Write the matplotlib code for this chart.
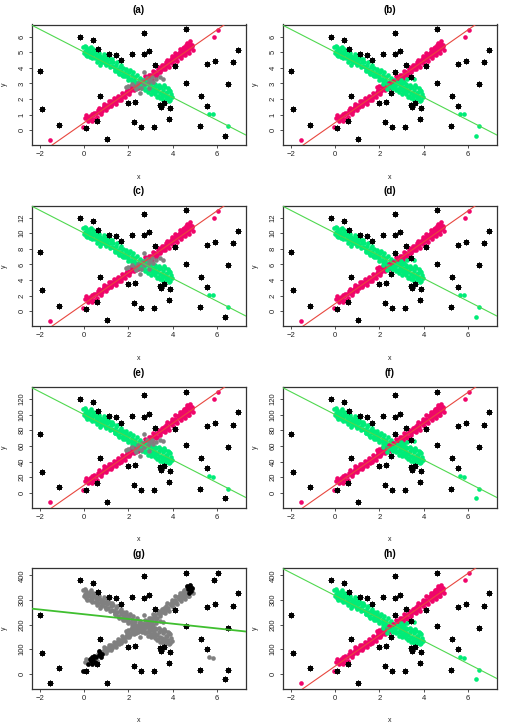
"""Ocho paneles de dispersion con dos rectas cruzadas (a)-(h).

Los puntos rojos siguen la recta creciente, los verdes la decreciente y
los asteriscos negros son atipicos. Todos los paneles comparten los mismos
datos base; solo cambia la escala del eje y.
"""

import matplotlib

matplotlib.use("Agg")
import matplotlib.pyplot as plt  # noqa: E402

plt.rcParams["font.family"] = ["Liberation Sans", "DejaVu Sans"]

COLOR_RED = "#f0056a"
COLOR_GREEN = "#00ec78"
COLOR_GREY = "#808080"
COLOR_RED_LINE = "#e8473f"
COLOR_GREEN_LINE = "#4fd84f"
COLOR_G_LINE = "#3fbf2f"

# --- datos base (unidades del panel (a)) ---------------------------------
red_x = [-1.52, -0.05, 0.05, 0.12, 0.18, 0.25, 0.30, 0.35, 0.38, 0.42, 0.48,
         0.55, 0.62, 0.68, 0.72, 0.80, 0.88, 0.95, 1.02, 1.08, 1.15, 1.20,
         1.26, 1.32, 1.38, 1.45, 1.50, 1.56, 1.62, 1.70, 1.76, 1.82, 1.88,
         1.95, 2.02, 2.08, 2.15, 2.20, 2.28, 2.35, 2.42, 2.50, 2.58, 2.65,
         2.72, 2.80, 2.88, 2.95, 3.02, 3.08, 3.15, 3.22, 3.28, 3.35, 3.42,
         3.48, 3.55, 3.60, 3.68, 3.72, 3.80, 3.86, 3.92, 3.98, 4.05, 4.10,
         4.16, 4.22, 4.28, 4.35, 4.40, 4.46, 4.52, 4.58, 4.62, 4.68, 4.72,
         4.78, 4.82, 4.86, 4.90, 4.75, 5.87, 6.05,
         0.08, 0.20, 0.33, 0.45, 0.58, 0.66, 0.75, 0.85, 0.92, 1.00, 1.12,
         1.22, 1.35, 1.42, 1.55, 1.65, 1.72, 1.85, 1.92, 2.05, 2.12, 2.25,
         2.32, 2.45, 2.55, 2.62, 2.75, 2.85, 2.92, 3.05, 3.12, 3.25, 3.32,
         3.45, 3.52, 3.65, 3.75, 3.82, 3.95, 4.02, 4.12, 4.20, 4.32, 4.38,
         4.50, 4.55, 4.65, 4.70, 4.80, 4.88, 4.60, 4.45, 4.30]
red_y = [-0.60, 0.21, 0.78, 0.85, 0.72, 0.92, 0.80, 1.05, 0.62, 0.95, 0.75,
         1.10, 1.28, 1.20, 1.35, 1.25, 1.55, 1.45, 1.62, 1.50, 1.70, 1.85,
         1.66, 1.80, 1.95, 1.88, 2.05, 1.92, 2.15, 2.10, 2.30, 2.22, 2.45,
         2.38, 2.60, 2.50, 2.72, 2.62, 2.85, 2.78, 2.95, 2.88, 3.10, 3.02,
         3.20, 3.15, 3.40, 3.30, 3.55, 3.45, 3.62, 3.75, 3.60, 3.90, 3.82,
         4.05, 3.95, 4.20, 4.10, 4.35, 4.22, 4.48, 4.38, 4.62, 4.50, 4.75,
         4.62, 4.90, 4.78, 5.00, 4.85, 5.10, 4.95, 5.22, 5.05, 5.40, 5.20,
         5.55, 5.30, 5.48, 5.15, 4.95, 5.98, 6.44,
         0.95, 0.60, 0.70, 1.12, 0.85, 1.45, 1.05, 1.40, 1.70, 1.30, 1.85,
         1.55, 2.05, 1.70, 2.20, 1.95, 2.40, 2.10, 2.60, 2.35, 2.85, 2.55,
         3.00, 2.70, 3.20, 2.85, 3.45, 3.05, 3.55, 3.30, 3.80, 3.50, 4.05,
         3.70, 4.15, 3.90, 4.50, 4.05, 4.75, 4.25, 4.95, 4.45, 5.20, 4.65,
         5.35, 4.80, 5.60, 5.00, 5.70, 5.40, 5.45, 5.25, 4.95]

green_x = [-0.05, 0.02, 0.05, 0.08, 0.12, 0.18, 0.22, 0.28, 0.32, 0.38, 0.42,
           0.48, 0.52, 0.58, 0.62, 0.65, 0.70, 0.75, 0.80, 0.85, 0.90, 0.95,
           1.00, 1.05, 1.10, 1.15, 1.20, 1.25, 1.30, 1.35, 1.40, 1.45, 1.50,
           1.55, 1.60, 1.65, 1.70, 1.75, 1.80, 1.85, 1.90, 1.95, 2.00, 2.05,
           2.10, 2.18, 2.25, 2.32, 2.40, 2.48, 2.55, 2.62, 2.70, 2.78, 2.85,
           2.92, 3.00, 3.05, 3.10, 3.15, 3.20, 3.25, 3.30, 3.35, 3.40, 3.45,
           3.50, 3.55, 3.60, 3.65, 3.70, 3.75, 3.80, 3.85, 3.88, 3.92, 0.40,
           0.55, 1.00, 5.65, 5.82, 6.50,
           0.00, 0.10, 0.15, 0.25, 0.35, 0.45, 0.60, 0.68, 0.78, 0.88, 0.98,
           1.08, 1.18, 1.28, 1.38, 1.48, 1.58, 1.68, 1.78, 1.88, 1.98, 2.08,
           2.15, 2.22, 2.30, 2.38, 2.45, 2.52, 2.60, 2.68, 2.75, 2.82, 2.90,
           2.97, 3.02, 3.08, 3.18, 3.22, 3.28, 3.38, 3.42, 3.48, 3.58, 3.62,
           3.68, 3.78, 3.82, 3.90, 3.95, 3.72, 3.52, 0.30, 0.72]
green_y = [5.35, 5.10, 5.40, 4.85, 5.20, 4.95, 5.05, 4.70, 4.92, 4.80, 5.10,
           4.60, 4.85, 4.72, 5.02, 4.50, 4.78, 4.62, 4.40, 4.70, 4.52, 4.30,
           4.62, 4.45, 4.22, 4.55, 4.35, 4.10, 4.40, 4.02, 3.85, 4.20, 3.95,
           3.70, 4.05, 3.80, 3.55, 3.98, 3.68, 3.45, 3.85, 3.60, 3.40, 3.72,
           3.30, 3.52, 3.22, 3.40, 3.05, 3.25, 2.90, 3.10, 2.80, 2.98, 2.65,
           2.88, 2.55, 2.78, 2.42, 2.70, 2.30, 2.85, 2.50, 2.20, 2.68, 2.38,
           2.10, 2.58, 2.25, 2.75, 2.00, 2.45, 2.15, 2.60, 1.95, 2.30, 5.20,
           5.15, 4.85, 1.05, 1.03, 0.25,
           4.95, 5.30, 4.75, 5.25, 4.60, 4.95, 4.40, 4.95, 4.35, 4.90, 4.15,
           4.70, 4.05, 4.55, 3.80, 4.35, 3.60, 4.15, 3.45, 3.95, 3.25, 3.85,
           3.15, 3.70, 3.10, 3.55, 2.85, 3.35, 2.70, 3.20, 2.60, 3.15, 2.45,
           3.05, 2.35, 3.00, 2.55, 2.95, 2.15, 2.90, 2.05, 2.78, 1.95, 2.88,
           2.18, 2.70, 1.90, 2.52, 2.10, 2.40, 2.30, 5.35, 4.20]

# Puntos del cruce: grises en (a), (c), (e); clasificados en (b), (d), (f), (h)
mid_x = [2.72, 2.54, 3.43, 1.90, 2.00, 2.15, 2.28, 2.38, 2.45, 2.55, 2.62,
         2.70, 2.82, 2.88, 2.98, 3.05, 3.12, 3.25, 3.55, 2.35, 2.95]
mid_y = [3.74, 2.36, 3.38, 2.74, 2.82, 2.95, 2.75, 2.88, 3.05, 2.72, 3.18,
         2.95, 3.35, 3.05, 3.22, 3.40, 3.10, 3.28, 3.30, 2.62, 2.70]
mid_group = ["s", "s", "s", "r", "r", "g", "r", "g", "r", "g", "r",
             "g", "r", "g", "g", "r", "g", "g", "g", "g", "g"]

# Atipicos (asteriscos)
star_x = [-2.00, -1.92, -1.13, -0.20, 0.10, 0.39, 0.62, 0.59, 0.74, 1.04,
          1.14, 1.43, 1.68, 1.98, 2.15, 2.24, 2.32, 2.57, 2.72, 2.72, 2.92,
          3.16, 3.19, 3.44, 3.49, 3.59, 3.85, 3.89, 4.09, 4.59, 4.59, 5.22,
          5.26, 5.55, 5.56, 5.91, 6.35, 6.51, 6.71, 6.93]
star_y = [3.79, 1.36, 0.36, 5.98, 0.17, 5.81, 5.21, 0.62, 2.21, -0.57,
          4.89, 4.83, 4.49, 1.72, 4.89, 0.53, 1.79, 0.21, 6.23, 4.87, 5.06,
          0.21, 4.17, 1.62, 1.49, 1.74, 0.70, 1.40, 4.09, 6.47, 3.04, 0.26,
          2.21, 1.57, 4.26, 4.45, -0.34, 2.96, 4.34, 5.15]
# En (b), (d), (f), (h) el atipico de (6.35, -0.34) pasa al grupo verde
star_alt = ["s"] * 36 + ["g"] + ["s"] * 3

# Panel (g): puntos oscuros y atipicos adicionales
g_dark_x = [-0.05, 0.25, 0.30, 0.35, 0.38, 0.42, 0.48, 0.55, 0.68, 0.72,
            0.80, 0.20, 0.45, 0.66, 0.75, 4.68, 4.72, 4.78, 4.82, 4.86,
            4.80, 4.65]
g_dark_y = [0.21, 0.92, 0.80, 1.05, 0.62, 0.95, 0.75, 1.10, 1.20, 1.35,
            1.25, 0.60, 1.12, 1.45, 1.05, 5.40, 5.20, 5.55, 5.30, 5.48,
            5.70, 5.60]
g_star_x = [-1.52, 5.87, 6.05, 6.50]
g_star_y = [-0.60, 5.98, 6.44, 0.25]

# --- configuracion de paneles ---------------------------------------------
panel_labels = ["(a)", "(b)", "(c)", "(d)", "(e)", "(f)", "(g)", "(h)"]
panel_kind = ["grey", "split", "grey", "split", "grey", "split", "single", "split"]
y_scale = [1, 1, 2, 2, 20, 20, 63.5, 63.5]
y_ticks = [
    [0, 1, 2, 3, 4, 5, 6],
    [0, 1, 2, 3, 4, 5, 6],
    [0, 2, 4, 6, 8, 10, 12],
    [0, 2, 4, 6, 8, 10, 12],
    [0, 20, 40, 60, 80, 100, 120],
    [0, 20, 40, 60, 80, 100, 120],
    [0, 100, 200, 300, 400],
    [0, 100, 200, 300, 400],
]
x_ticks = [-2, 0, 2, 4, 6]
red_line = (0.485, 0.99)  # intercepto, pendiente (unidades base)
green_line = (5.01, -0.727)
g_line = (242.0, -9.6)  # recta unica del panel (g), unidades del panel
x_lim = (-2.35, 7.31)
y_lim_base = (-0.94, 6.77)

FIG_W, FIG_H = 506, 723
COL_LEFT = [32, 283]
ROW_TOP = [24.5, 205.5, 387.0, 568.0]
AX_W, AX_H = 214, 120.5


def _scatter(ax, xs, ys, color, k, star=False):
    if not xs:
        return
    ys = [v * k for v in ys]
    if star:
        ax.scatter(xs, ys, marker=(8, 2, 0), s=11, linewidths=0.95,
                   color="black", zorder=3)
    else:
        ax.scatter(xs, ys, s=11, color=color, linewidths=0, zorder=2)


def _abline(ax, a, b, color, lw=0.8):
    xs = list(x_lim)
    ax.plot(xs, [a + b * v for v in xs], color=color, linewidth=lw, zorder=4)


def _pick(xs, ys, labels, grp):
    sel = [(x, y) for x, y, g in zip(xs, ys, labels) if g == grp]
    return [p[0] for p in sel], [p[1] for p in sel]


def draw_panel(ax, i):
    k = y_scale[i]
    kind = panel_kind[i]
    if kind == "single":
        _scatter(ax, red_x + green_x + mid_x, red_y + green_y + mid_y, COLOR_GREY, k)
        _scatter(ax, g_dark_x, g_dark_y, "black", k)
        _scatter(ax, star_x + g_star_x, star_y + g_star_y, "black", k, star=True)
        _abline(ax, g_line[0], g_line[1], COLOR_G_LINE, lw=1.3)
    else:
        _scatter(ax, red_x, red_y, COLOR_RED, k)
        _scatter(ax, green_x, green_y, COLOR_GREEN, k)
        if kind == "grey":
            _scatter(ax, mid_x, mid_y, COLOR_GREY, k)
            _scatter(ax, star_x, star_y, "black", k, star=True)
        else:
            for grp, col in (("r", COLOR_RED), ("g", COLOR_GREEN)):
                _scatter(ax, *_pick(mid_x, mid_y, mid_group, grp), col, k)
                _scatter(ax, *_pick(star_x, star_y, star_alt, grp), col, k)
            _scatter(ax, *_pick(mid_x, mid_y, mid_group, "s"), "black", k, star=True)
            _scatter(ax, *_pick(star_x, star_y, star_alt, "s"), "black", k, star=True)
        _abline(ax, red_line[0] * k, red_line[1] * k, COLOR_RED_LINE)
        _abline(ax, green_line[0] * k, green_line[1] * k, COLOR_GREEN_LINE)

    ax.set_xlim(*x_lim)
    ax.set_ylim(y_lim_base[0] * k, y_lim_base[1] * k)
    ax.set_xticks(x_ticks)
    ax.set_xticklabels([str(v).replace("-", "\u2212") for v in x_ticks])
    ax.set_yticks(y_ticks[i])
    ax.set_yticklabels([str(v) for v in y_ticks[i]], rotation=90, va="center")
    ax.tick_params(labelsize=5.5, length=2.5, width=0.6, pad=2, color="#333333",
                   labelcolor="#222222")
    for sp in ax.spines.values():
        sp.set_linewidth(0.9)
        sp.set_color("#333333")
    ax.set_xlabel("x", fontsize=5, labelpad=11, color="#222222")
    ax.set_ylabel("y", fontsize=5, labelpad=8, color="#222222")
    ax.set_title(panel_labels[i], fontsize=7, fontweight="bold", pad=8)


fig = plt.figure(figsize=(FIG_W / 100, FIG_H / 100), dpi=100)
for i in range(8):
    row, col = divmod(i, 2)
    left = COL_LEFT[col] / FIG_W
    bottom = 1 - (ROW_TOP[row] + AX_H) / FIG_H
    ax = fig.add_axes([left, bottom, AX_W / FIG_W, AX_H / FIG_H])
    draw_panel(ax, i)

fig.savefig("out.png", dpi=100)
